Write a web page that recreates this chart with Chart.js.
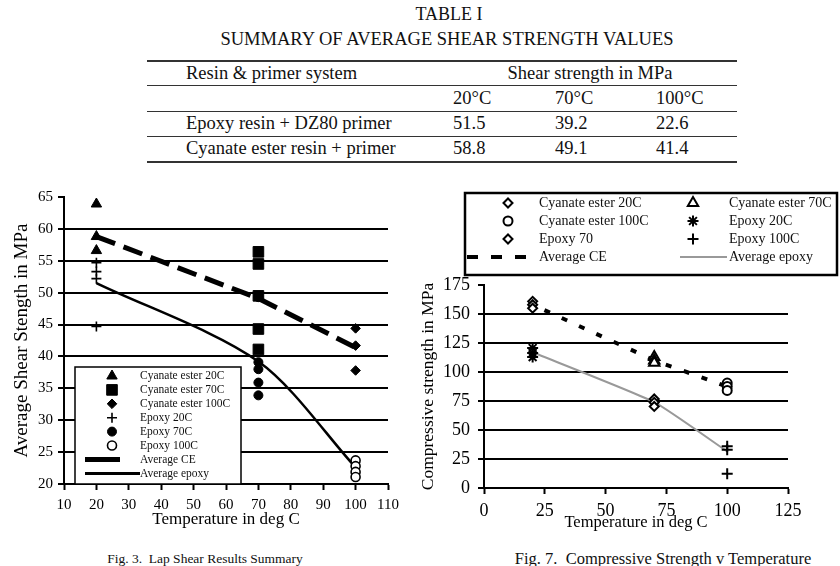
<!DOCTYPE html>
<html>
<head>
<meta charset="utf-8">
<script src="https://cdn.jsdelivr.net/npm/chart.js@4.4.1/dist/chart.umd.min.js"></script>
<style>
  html, body { margin: 0; padding: 0; background: #fff; }
  body { width: 840px; height: 566px; position: relative; overflow: hidden;
         font-family: 'Liberation Serif', 'Times New Roman', serif; color: #111; }
  .t { position: absolute; white-space: nowrap; }
  .rule { position: absolute; left: 147px; width: 590px; height: 1.5px; background: #333; }
  canvas { position: absolute; }
</style>
</head>
<body>
<div id="page"></div>
<canvas id="lapChart" width="420" height="360" style="left:0px;top:180px"></canvas>
<canvas id="compChart" width="430" height="352" style="left:410px;top:188px"></canvas>
<script>
// table I
const tableTemps = ['20°C', '70°C', '100°C'];
const tableSystems = ['Epoxy resin + DZ80 primer', 'Cyanate ester resin + primer'];

// fig 3 - lap shear (MPa)
const temps = [20, 70, 100];
const lapCE20 = [63.9, 58.8, 56.6];
const lapCE70 = [56.4, 54.5, 49.5, 44.3, 41.1];
const lapCE100 = [44.4, 41.7, 37.8];
const lapEp20 = [54.7, 53.3, 52.2, 44.7];
const lapEp70 = [49.3, 39.1, 38.0, 35.9, 33.9];
const lapEp100 = [23.7, 22.8, 21.9, 21.1];
const lapAvgEpoxy = [51.5, 39.2, 22.6];
const lapAvgCE = [58.8, 49.1, 41.4];
const lapXTicks = [10, 110, 10];   // min, max, step
const lapYTicks = [20, 65, 5];

// fig 7 - compressive strength (MPa)
const compCE20 = [160.9, 158.0, 155.0];
const compCE70 = [113.0, 110.0, 108.0];
const compCE100 = [90.5, 87.6, 84.1];
const compEp20 = [120.7, 116.4, 112.9];
const compEp70 = [76.7, 73.8, 70.3];
const compEp100 = [35.9, 33.0, 12.3];
const compAvgCE = [158.0, 110.0, 87.4];
const compAvgEpoxy = [117.0, 74.0, 31.5];
const compXTicks = [0, 125, 25];
const compYTicks = [0, 175, 25];

const page = document.getElementById('page');
function text(str, x, y, size, align) {
  const d = document.createElement('div');
  d.className = 't';
  d.textContent = str;
  d.style.fontSize = size + 'px';
  d.style.lineHeight = (size * 1.2) + 'px';
  d.style.top = (y - size * 0.6) + 'px';
  if (align === 'center') { d.style.left = x + 'px'; d.style.transform = 'translateX(-50%)'; }
  else d.style.left = x + 'px';
  page.appendChild(d);
}
function rule(y) {
  const d = document.createElement('div');
  d.className = 'rule';
  d.style.top = y + 'px';
  page.appendChild(d);
}

// table
text('TABLE I', 449, 15, 18, 'center');
text('SUMMARY OF AVERAGE SHEAR STRENGTH VALUES', 447, 39, 18.5, 'center');
[60, 84.5, 110.5, 135.5, 161].forEach(rule);
text('Resin & primer system', 186, 73, 18.5);
text('Shear strength in MPa', 590, 73, 18.5, 'center');
const colX = [453, 555, 656];
tableTemps.forEach((t, i) => text(t, colX[i], 98, 18.5));
[lapAvgEpoxy, lapAvgCE].forEach((row, r) => {
  text(tableSystems[r], 186, 123 + r * 25, 18.5);
  row.forEach((v, i) => text(v.toFixed(1), colX[i], 123 + r * 25, 18.5));
});

// captions
text('Fig. 3.\u00a0 Lap Shear Results Summary', 205, 559, 13.5, 'center');
text('Fig. 7.\u00a0 Compressive Strength v Temperature', 663, 559, 16.5, 'center');

Chart.defaults.font.family = "'Liberation Serif', 'Times New Roman', serif";
Chart.defaults.color = '#000';

const pts = (x, ys) => ys.map(y => ({ x: x, y: y }));
const line = (ys) => temps.map((x, i) => ({ x: x, y: ys[i] }));

function marker(label, data, style, radius, fill, bw) {
  return { label: label, data: data, pointStyle: style, pointRadius: radius,
    pointHoverRadius: radius, backgroundColor: fill, borderColor: '#000',
    pointBorderWidth: bw, showLine: false };
}

// legend drawn in a box, using the chart's own point renderer
const boxLegend = {
  id: 'boxLegend',
  afterDatasetsDraw(chart, args, o) {
    const ctx = chart.ctx;
    ctx.save();
    ctx.fillStyle = '#fff';
    ctx.strokeStyle = '#000';
    ctx.lineWidth = o.border;
    ctx.fillRect(o.box[0], o.box[1], o.box[2], o.box[3]);
    ctx.strokeRect(o.box[0], o.box[1], o.box[2], o.box[3]);
    ctx.font = o.font;
    ctx.textBaseline = 'middle';
    o.items.forEach(it => {
      const ds = chart.data.datasets[it.ds];
      if (ds.showLine) {
        ctx.save();
        ctx.strokeStyle = ds.borderColor;
        ctx.lineWidth = it.lw || ds.borderWidth;
        ctx.setLineDash(it.dash || []);
        ctx.beginPath();
        ctx.moveTo(it.x1, it.y);
        ctx.lineTo(it.x2, it.y);
        ctx.stroke();
        ctx.restore();
      } else {
        ctx.fillStyle = ds.backgroundColor;
        ctx.strokeStyle = ds.borderColor;
        ctx.lineWidth = ds.pointBorderWidth;
        Chart.helpers.drawPoint(ctx, { pointStyle: ds.pointStyle, radius: ds.pointRadius,
          rotation: 0, borderWidth: ds.pointBorderWidth }, it.x1, it.y);
      }
      ctx.fillStyle = '#111';
      ctx.fillText(ds.label, it.tx, it.y);
    });
    ctx.restore();
  }
};

function axes(xt, yt, o) {
  return {
    x: {
      type: 'linear', min: xt[0], max: xt[1],
      ticks: { stepSize: xt[2], padding: o.xPad, font: { size: o.tickSize } },
      grid: { drawOnChartArea: false, tickLength: 6, tickColor: '#000', tickWidth: 2 },
      border: { color: '#000', width: 2 },
      title: { display: true, text: 'Temperature in deg C', font: { size: o.xTitleSize },
        padding: { top: 0, bottom: o.xTitlePad } },
      afterFit(s) { s.height = o.xHeight; }
    },
    y: {
      min: yt[0], max: yt[1],
      ticks: { stepSize: yt[2], padding: o.yPad, font: { size: o.tickSize } },
      grid: { color: c => c.tick && c.tick.value === yt[1] ? 'rgba(0,0,0,0)' : '#000',
        lineWidth: 2, tickLength: 6, tickColor: '#000', tickWidth: 2 },
      border: { color: '#000', width: 2 },
      title: { display: true, text: o.yTitle, font: { size: o.yTitleSize },
        padding: { top: o.yTitlePad, bottom: 0 } },
      afterFit(s) { s.width = o.yWidth; }
    }
  };
}

new Chart(document.getElementById('lapChart'), {
  type: 'scatter',
  data: {
    datasets: [
      marker('Cyanate ester 20C', pts(20, lapCE20), 'triangle', 6, '#000', 1),
      marker('Cyanate ester 70C', pts(70, lapCE70), 'rect', 7.5, '#000', 1),
      marker('Cyanate ester 100C', pts(100, lapCE100), 'rectRot', 4.8, '#000', 1),
      marker('Epoxy 20C', pts(20, lapEp20), 'cross', 5, '#000', 1.6),
      marker('Epoxy 70C', pts(70, lapEp70), 'circle', 4.5, '#000', 1),
      marker('Epoxy 100C', pts(100, lapEp100), 'circle', 4.5, '#fff', 1.6),
      { label: 'Average CE', data: line(lapAvgCE), showLine: true, pointRadius: 0,
        borderColor: '#000', borderWidth: 5, borderDash: [20, 9], tension: 0 },
      { label: 'Average epoxy', data: line(lapAvgEpoxy), showLine: true, pointRadius: 0,
        borderColor: '#000', borderWidth: 2.5, tension: 0.3 }
    ]
  },
  options: {
    responsive: false, animation: false,
    layout: { padding: { left: 0, top: 17, right: 32, bottom: 0 } },
    scales: axes(lapXTicks, lapYTicks, { tickSize: 15, xPad: 6, yPad: 5, xTitleSize: 17,
      xTitlePad: 9.8, xHeight: 56, yTitle: 'Average Shear Stength in MPa', yTitleSize: 19,
      yTitlePad: 10.6, yWidth: 64 }),
    plugins: {
      legend: { display: false }, tooltip: { enabled: false },
      boxLegend: {
        box: [75, 187, 166, 117], border: 1.5, font: "11.5px 'Liberation Serif'",
        items: [0, 1, 2, 3, 4, 5].map(i => ({ ds: i, x1: 112, tx: 140, y: 196 + i * 13.9 }))
          .concat([{ ds: 6, x1: 85, x2: 120, tx: 140, y: 279.5, lw: 5 },
                   { ds: 7, x1: 85, x2: 140, tx: 140, y: 293.5, lw: 3 }])
      }
    }
  },
  plugins: [boxLegend]
});

new Chart(document.getElementById('compChart'), {
  type: 'scatter',
  data: {
    datasets: [
      marker('Cyanate ester 20C', pts(20, compCE20), 'rectRot', 4.5, '#fff', 2),
      marker('Cyanate ester 70C', pts(70, compCE70), 'triangle', 6, '#fff', 2),
      marker('Cyanate ester 100C', pts(100, compCE100), 'circle', 4.5, '#fff', 2),
      marker('Epoxy 20C', pts(20, compEp20), 'star', 5.5, '#000', 2),
      marker('Epoxy 70', pts(70, compEp70), 'rectRot', 4.5, '#fff', 2),
      marker('Epoxy 100C', pts(100, compEp100), 'cross', 5.5, '#000', 2),
      { label: 'Average CE', data: line(compAvgCE), showLine: true, pointRadius: 0,
        borderColor: '#000', borderWidth: 4, borderDash: [6, 13], borderDashOffset: 6,
        tension: 0 },
      { label: 'Average epoxy', data: line(compAvgEpoxy), showLine: true, pointRadius: 0,
        borderColor: '#999', borderWidth: 2, tension: 0.15 }
    ]
  },
  options: {
    responsive: false, animation: false,
    layout: { padding: { left: 0, top: 97, right: 52, bottom: 0 } },
    scales: axes(compXTicks, compYTicks, { tickSize: 18, xPad: 6.9, yPad: 8, xTitleSize: 16.5,
      xTitlePad: 7.4, xHeight: 52, yTitle: 'Compressive strength in MPa', yTitleSize: 17.5,
      yTitlePad: 7.5, yWidth: 74 }),
    plugins: {
      legend: { display: false }, tooltip: { enabled: false },
      boxLegend: {
        box: [55, 5, 372, 82], border: 2.5, font: "14px 'Liberation Serif'",
        items: [
          { ds: 0, x1: 98, tx: 129, y: 15 }, { ds: 1, x1: 283, tx: 319, y: 15 },
          { ds: 2, x1: 98, tx: 129, y: 33 }, { ds: 3, x1: 283, tx: 319, y: 33 },
          { ds: 4, x1: 98, tx: 129, y: 51 }, { ds: 5, x1: 283, tx: 319, y: 51 },
          { ds: 6, x1: 57, x2: 118, tx: 129, y: 69, lw: 4, dash: [11, 13] },
          { ds: 7, x1: 270, x2: 317, tx: 319, y: 69, lw: 2 }
        ]
      }
    }
  },
  plugins: [boxLegend]
});
</script>
</body>
</html>
